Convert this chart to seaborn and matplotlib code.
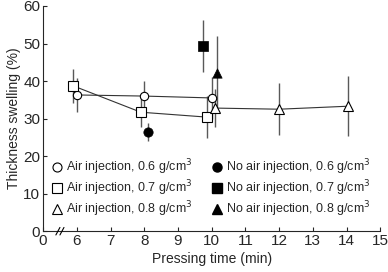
import matplotlib
matplotlib.use("Agg")
import matplotlib.pyplot as plt
import pandas as pd
import seaborn as sns
from matplotlib.lines import Line2D

# Air injection series (x slightly offset in the original for readability)
air06_x = [6.0, 8.0, 10.0]
air06_y = [36.3, 36.0, 35.5]
air06_err = [4.5, 4.0, 5.5]

air07_x = [5.9, 7.9, 9.85]
air07_y = [38.7, 31.7, 30.4]
air07_err = [4.5, 4.0, 5.5]

air08_x = [10.1, 12.0, 14.05]
air08_y = [32.8, 32.5, 33.3]
air08_err = [5.0, 7.0, 8.0]

# No air injection points
noair_x = [8.1, 9.75, 10.15]
noair_y = [26.4, 49.3, 42.1]
noair_err = [2.5, 7.0, 10.0]
noair_marker = ["o", "s", "^"]

sns.set_style("ticks")
plt.rcParams["font.family"] = ["Liberation Sans", "DejaVu Sans"]

fig, ax = plt.subplots(figsize=(3.88, 2.72), dpi=100)

ecol = "0.35"
for xs, ys, es in [(air06_x, air06_y, air06_err), (air07_x, air07_y, air07_err),
                   (air08_x, air08_y, air08_err), (noair_x, noair_y, noair_err)]:
    ax.errorbar(xs, ys, yerr=es, fmt="none", ecolor=ecol, elinewidth=1.0, capsize=0, zorder=1)

series = [
    (air06_x, air06_y, "o", 6),
    (air07_x, air07_y, "s", 6.5),
    (air08_x, air08_y, "^", 6.5),
]
for xs, ys, m, ms in series:
    df = pd.DataFrame({"x": xs, "y": ys})
    sns.lineplot(data=df, x="x", y="y", ax=ax, color="0.2", lw=0.8, marker=m,
                 markersize=ms, markerfacecolor="white", markeredgecolor="black",
                 markeredgewidth=0.8, sort=False, zorder=2)

for x, y, m in zip(noair_x, noair_y, noair_marker):
    sns.scatterplot(x=[x], y=[y], marker=m, color="black", s=45, edgecolor="black",
                    linewidth=0.5, ax=ax, zorder=3, legend=False)

ax.set_xlim(5, 15)
ax.set_ylim(0, 60)
ax.set_xticks(range(5, 16))
ax.set_xticklabels(["0"] + [str(v) for v in range(6, 16)])
ax.set_yticks(range(0, 61, 10))
ax.tick_params(direction="in", length=3, width=0.8, labelsize=11, pad=2)
for s in ["top", "right"]:
    ax.spines[s].set_visible(False)
for s in ["left", "bottom"]:
    ax.spines[s].set_linewidth(0.8)
ax.set_xlabel("Pressing time (min)", fontsize=10, labelpad=3)
ax.set_ylabel("Thickness swelling (%)", fontsize=10, labelpad=2)

# axis break marks
for dx in (-0.06, 0.06):
    ax.plot([5.5 + dx - 0.06, 5.5 + dx + 0.06], [-1.0, 1.0], color="black", lw=0.8,
            clip_on=False, zorder=5)

labels_air = ["Air injection, 0.6 g/cm$^3$", "Air injection, 0.7 g/cm$^3$", "Air injection, 0.8 g/cm$^3$"]
labels_no = ["No air injection, 0.6 g/cm$^3$", "No air injection, 0.7 g/cm$^3$", "No air injection, 0.8 g/cm$^3$"]
h_air = [Line2D([], [], ls="none", marker=m, markersize=6.5, markerfacecolor="white",
                markeredgecolor="black", markeredgewidth=0.8) for m in ["o", "s", "^"]]
h_no = [Line2D([], [], ls="none", marker=m, markersize=6.5, color="black") for m in noair_marker]
ax.legend(h_air + h_no, labels_air + labels_no, ncol=2, loc="lower left",
          bbox_to_anchor=(0.0, 0.015), frameon=False, fontsize=9, handlelength=0.8,
          handletextpad=0.3, columnspacing=1.6, labelspacing=0.1, borderaxespad=0.3)

fig.subplots_adjust(left=0.111, right=0.98, bottom=0.15, top=0.978)
fig.savefig("out.png", dpi=100)
